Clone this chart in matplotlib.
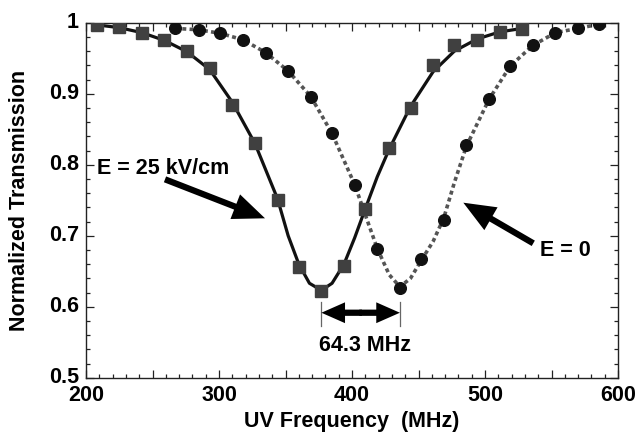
import numpy as np
import matplotlib
matplotlib.use("Agg")
import matplotlib.pyplot as plt
import matplotlib.transforms as mtransforms
from matplotlib.ticker import MultipleLocator, FixedLocator, FixedFormatter

plt.rcParams['font.family'] = ['Liberation Sans', 'DejaVu Sans']
plt.rcParams['font.weight'] = 'bold'

# ---- data: E = 25 kV/cm (squares) ----
freq_25 = [208, 225, 242, 259, 276, 293, 310, 327, 344, 360, 377, 394, 410,
           428, 444, 461, 477, 494, 511, 528]
trans_25 = [0.997, 0.994, 0.986, 0.975, 0.960, 0.936, 0.884, 0.831, 0.750,
            0.656, 0.622, 0.658, 0.737, 0.823, 0.880, 0.940, 0.969, 0.976,
            0.987, 0.991]
# fit curve through E = 25 kV/cm data
fit_freq_25 = [205, 208, 225, 242, 259, 276, 293, 310, 327, 344, 352, 360, 368,
               377, 385, 394, 402, 410, 419, 428, 444, 461, 477, 494, 511, 528]
fit_trans_25 = [0.998, 0.997, 0.993, 0.986, 0.975, 0.959, 0.934, 0.888, 0.830,
                0.752, 0.700, 0.660, 0.633, 0.623, 0.633, 0.660, 0.697, 0.738,
                0.783, 0.822, 0.882, 0.931, 0.960, 0.977, 0.987, 0.992]

# ---- data: E = 0 (circles) ----
freq_0 = [267, 285, 301, 318, 335, 352, 369, 385, 402, 419, 436, 452, 469,
          486, 503, 519, 536, 553, 570, 586]
trans_0 = [0.992, 0.990, 0.985, 0.976, 0.958, 0.932, 0.896, 0.844, 0.772,
           0.681, 0.627, 0.667, 0.722, 0.828, 0.892, 0.939, 0.968, 0.986,
           0.992, 0.998]
fit_freq_0 = [267, 285, 301, 318, 335, 352, 369, 385, 402, 411, 419, 428, 436,
              444, 452, 461, 469, 477, 486, 503, 519, 536, 553, 570, 586]
fit_trans_0 = [0.992, 0.990, 0.985, 0.976, 0.958, 0.932, 0.896, 0.844, 0.772,
               0.724, 0.682, 0.645, 0.628, 0.640, 0.665, 0.692, 0.725, 0.775,
               0.826, 0.892, 0.939, 0.968, 0.986, 0.992, 0.998]

x_tick_values = [200, 250, 300, 350, 400, 450, 500, 550, 600]
x_tick_labels = ['200', '', '300', '', '400', '', '500', '', '600']
y_tick_values = [0.5, 0.6, 0.7, 0.8, 0.9, 1.0]
y_tick_labels = ['0.5', '0.6', '0.7', '0.8', '0.9', '1']

FS = 15.5

fig = plt.figure(figsize=(6.44, 4.34), dpi=100)
ax = fig.add_axes([86 / 644, 1 - 377.7 / 434, (618 - 86) / 644, 355 / 434])

# lines
ax.plot(fit_freq_25, fit_trans_25, color='#111111', lw=2.3, zorder=2,
        solid_joinstyle='round', solid_capstyle='round')
ax.plot(fit_freq_0, fit_trans_0, color='#555555', lw=2.6, zorder=2,
        linestyle=(0, (1.1, 0.9)), dash_capstyle='butt')
# markers
ax.plot(freq_25, trans_25, linestyle='none', marker='s', ms=8.6,
        color='#404040', mec='#404040', zorder=3)
ax.plot(freq_0, trans_0, linestyle='none', marker='o', ms=8.4,
        color='#111111', mec='#111111', zorder=3)

ax.set_xlim(200, 600)
ax.set_ylim(0.5, 1.0)

ax.xaxis.set_major_locator(FixedLocator(x_tick_values))
ax.xaxis.set_major_formatter(FixedFormatter(x_tick_labels))
ax.xaxis.set_minor_locator(MultipleLocator(10))
ax.yaxis.set_major_locator(FixedLocator(y_tick_values))
ax.yaxis.set_major_formatter(FixedFormatter(y_tick_labels))
ax.yaxis.set_minor_locator(MultipleLocator(0.02))

ax.tick_params(which='both', direction='in', top=True, right=True,
               width=0.9, color='#222222')
ax.tick_params(which='major', length=5.5, labelsize=FS, pad=5)
ax.tick_params(which='minor', length=3)
for lab in ax.get_xticklabels() + ax.get_yticklabels():
    lab.set_fontweight('bold')
# y tick labels sit slightly above their ticks, as in the reference
shift = mtransforms.ScaledTranslation(0, 3 / 100, fig.dpi_scale_trans)
for lab in ax.get_yticklabels():
    lab.set_transform(lab.get_transform() + shift)
for s in ax.spines.values():
    s.set_linewidth(1.0)
    s.set_color('#222222')

ax.set_xlabel('UV Frequency  (MHz)', fontsize=FS, fontweight='bold')
ax.set_ylabel('Normalized Transmission', fontsize=FS, fontweight='bold')
ax.xaxis.set_label_coords(0.5, -0.095)
ax.yaxis.set_label_coords(-0.105, 0.5)

# annotations
ax.text(208.3, 0.795, 'E = 25 kV/cm', fontsize=FS, fontweight='bold',
        ha='left', va='center')
ax.text(541.4, 0.679, 'E = 0', fontsize=FS, fontweight='bold',
        ha='left', va='center')

astyle = dict(arrowstyle='simple,head_length=2.3,head_width=1.9,tail_width=0.45',
              mutation_scale=10, color='black', shrinkA=0, shrinkB=0, lw=0)
ax.annotate('', xy=(334.6, 0.7245), xytext=(259.4, 0.7794), arrowprops=astyle)
ax.annotate('', xy=(483.7, 0.7465), xytext=(536.3, 0.6893), arrowprops=astyle)

# splitting arrow between the two minima
x_min_25 = freq_25[int(np.argmin(trans_25))]
x_min_0 = freq_0[int(np.argmin(trans_0))]
for xm in (x_min_25, x_min_0):
    ax.plot([xm, xm], [0.573, 0.607], color='#666666', lw=0.9, zorder=2)
mid = 0.5 * (x_min_25 + x_min_0)
dstyle = dict(arrowstyle='simple,head_length=1.7,head_width=1.5,tail_width=0.45',
              mutation_scale=10, color='black', shrinkA=0, shrinkB=0, lw=0)
ax.annotate('', xy=(x_min_25, 0.5915), xytext=(mid + 1, 0.5915), arrowprops=dstyle)
ax.annotate('', xy=(x_min_0, 0.5915), xytext=(mid - 1, 0.5915), arrowprops=dstyle)
ax.text(mid + 3, 0.545, '64.3 MHz', fontsize=FS,
        fontweight='bold', ha='center', va='center')

fig.savefig('out.png', dpi=100)
